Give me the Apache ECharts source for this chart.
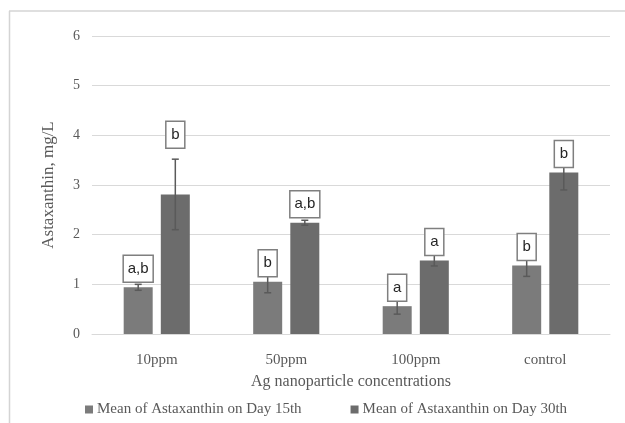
<!DOCTYPE html>
<html>
<head>
<meta charset="utf-8">
<script src="https://cdn.jsdelivr.net/npm/echarts@6/dist/echarts.min.js"></script>
<style>
  html, body { margin: 0; padding: 0; background: #fff; }
  #chart { width: 625px; height: 423px; }
</style>
</head>
<body>
<div id="chart"></div>
<script>
// Astaxanthin yield under different Ag nanoparticle concentrations
const categories = ['10ppm', '50ppm', '100ppm', 'control'];
const seriesNames = ['Mean of Astaxanthin on Day 15th', 'Mean of Astaxanthin on Day 30th'];
const day15 = [0.94, 1.05, 0.56, 1.38];
const day30 = [2.81, 2.24, 1.48, 3.25];
const day15Err = [0.06, 0.22, 0.16, 0.22];
const day30Err = [0.71, 0.05, 0.11, 0.35];
const day15Groups = ['a,b', 'b', 'a', 'b'];
const day30Groups = ['b', 'a,b', 'a', 'b'];
const yTicks = [0, 1, 2, 3, 4, 5, 6];

const colors = ['#7b7b7b', '#6c6c6c'];
const BAR_W = 29;
const BAR_GAP = 0.28;
const serif = '"Liberation Serif", "DejaVu Serif", serif';
const sans = '"Liberation Sans", Arial, sans-serif';

// error bar plus boxed significance letter for one series
function makeOverlay(values, errs, groups, seriesIdx) {
  const data = values.map((v, i) => [i, v, errs[i], groups[i]]);
  return {
    type: 'custom',
    z: 5,
    silent: true,
    data: data,
    encode: { x: 0, y: 1 },
    renderItem: function (params, api) {
      const idx = api.value(0);
      const val = api.value(1);
      const err = api.value(2);
      const letter = groups[idx];
      const base = api.coord([idx, val]);
      const offset = (BAR_W + BAR_W * BAR_GAP) / 2 * (seriesIdx === 0 ? -1 : 1);
      const x = base[0] + offset;
      const yTop = api.coord([idx, val + err])[1];
      const yBot = api.coord([idx, val - err])[1];
      const cap = 3.5;
      const lineStyle = { stroke: '#5a5a5a', lineWidth: 1.5 };
      // box sits just above the bar top, lifted over the whisker when it would poke through
      const boxH = 27;
      const boxW = letter.length > 1 ? 30 : 19;
      let boxBottom = base[1] - 5;
      if (yTop < boxBottom - boxH) boxBottom = yTop - 11;
      return {
        type: 'group',
        children: [
          { type: 'line', shape: { x1: x, y1: yTop, x2: x, y2: yBot }, style: lineStyle },
          { type: 'line', shape: { x1: x - cap, y1: yTop, x2: x + cap, y2: yTop }, style: lineStyle },
          { type: 'line', shape: { x1: x - cap, y1: yBot, x2: x + cap, y2: yBot }, style: lineStyle },
          {
            type: 'rect',
            shape: { x: x - boxW / 2, y: boxBottom - boxH, width: boxW, height: boxH },
            style: { fill: '#ffffff', stroke: '#7f7f7f', lineWidth: 1.5 }
          },
          {
            type: 'text',
            x: x, y: boxBottom - boxH / 2,
            style: {
              text: letter, fill: '#262626', font: '15px ' + sans,
              align: 'center', verticalAlign: 'middle'
            }
          }
        ]
      };
    }
  };
}

const chart = echarts.init(document.getElementById('chart'), null, { renderer: 'canvas' });
chart.setOption({
  animation: false,
  backgroundColor: '#ffffff',
  graphic: [
    { type: 'line', shape: { x1: 9.5, y1: 11, x2: 9.5, y2: 423 }, style: { stroke: '#d4d4d4', lineWidth: 1.5 } },
    { type: 'line', shape: { x1: 9, y1: 11, x2: 625, y2: 11 }, style: { stroke: '#d4d4d4', lineWidth: 1.5 } }
  ],
  grid: { left: 92, right: 15, top: 36, bottom: 89, containLabel: false },
  legend: {
    bottom: 1,
    left: 80,
    itemWidth: 8,
    itemHeight: 8,
    itemGap: 49,
    icon: 'rect',
    data: seriesNames,
    textStyle: { fontFamily: serif, fontSize: 15, color: '#595959', padding: [0, 0, 0, -1] }
  },
  xAxis: {
    type: 'category',
    data: categories,
    axisTick: { show: false },
    axisLine: { show: true, lineStyle: { color: '#d9d9d9', width: 1 } },
    axisLabel: { fontFamily: serif, fontSize: 15, color: '#595959', margin: 19 },
    name: 'Ag nanoparticle concentrations',
    nameLocation: 'middle',
    nameGap: 40,
    nameTextStyle: { fontFamily: serif, fontSize: 16, color: '#595959' }
  },
  yAxis: {
    type: 'value',
    min: yTicks[0],
    max: yTicks[yTicks.length - 1],
    interval: 1,
    axisLine: { show: false },
    axisTick: { show: false },
    splitLine: { lineStyle: { color: '#d9d9d9', width: 1 } },
    axisLabel: { fontFamily: serif, fontSize: 14, color: '#595959', margin: 12 },
    name: 'Astaxanthin, mg/L',
    nameLocation: 'middle',
    nameGap: 35,
    nameRotate: 90,
    nameTextStyle: { fontFamily: serif, fontSize: 17, color: '#595959' }
  },
  series: [
    {
      name: seriesNames[0], type: 'bar', data: day15, barWidth: BAR_W,
      barGap: (BAR_GAP * 100) + '%', itemStyle: { color: colors[0] }
    },
    {
      name: seriesNames[1], type: 'bar', data: day30, barWidth: BAR_W,
      itemStyle: { color: colors[1] }
    },
    makeOverlay(day15, day15Err, day15Groups, 0),
    makeOverlay(day30, day30Err, day30Groups, 1)
  ]
});
</script>
</body>
</html>
